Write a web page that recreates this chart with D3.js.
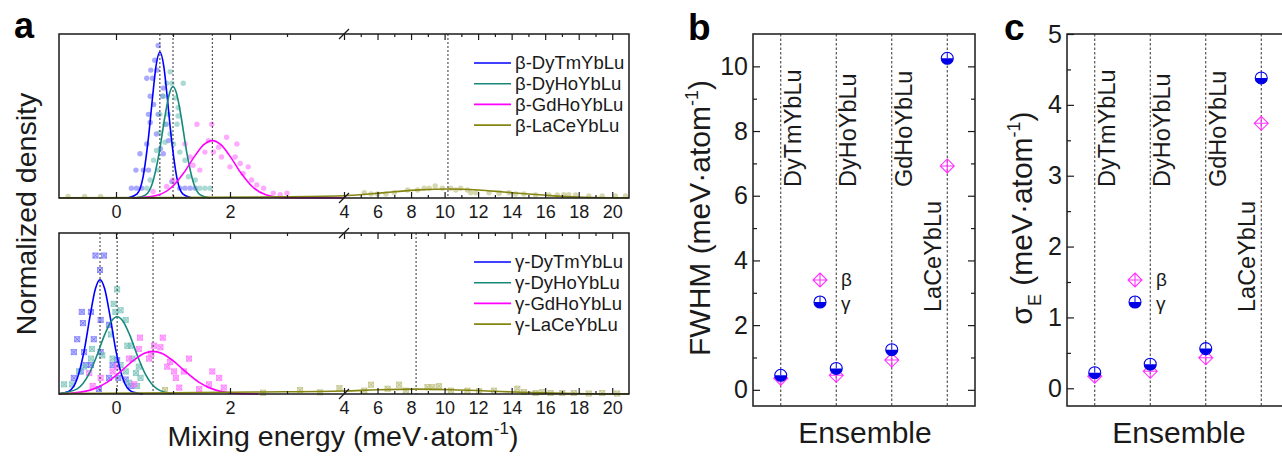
<!DOCTYPE html>
<html>
<head>
<meta charset="utf-8">
<script src="https://cdn.jsdelivr.net/npm/d3@7"></script>
<style>
  body { margin: 0; background: #fff; }
  svg { font-family: "Liberation Sans", Arial, Helvetica, sans-serif; }
</style>
</head>
<body>
<svg id="chart" width="1282" height="459"></svg>
<script>
// ---------- data ----------
const ensembles = ["DyTmYbLu", "DyHoYbLu", "GdHoYbLu", "LaCeYbLu"];
const betaNames = ensembles.map(d => "β-" + d);
const gammaNames = ensembles.map(d => "γ-" + d);

// FWHM (panel b) and sigma_E (panel c)
const fwhmBeta = [0.36, 0.45, 0.92, 6.92];
const fwhmGamma = [0.45, 0.66, 1.24, 10.25];
const sigmaBeta = [0.17, 0.24, 0.43, 3.74];
const sigmaGamma = [0.22, 0.34, 0.56, 4.38];

// peak positions (dotted lines in panel a)
const betaPeaks = [0.77, 1.0, 1.69, 10.2];
const gammaPeaks = [-0.28, 0.02, 0.65, 8.3];

// tick values
const energyMajor = [0, 2, 4, 6, 8, 10, 12, 14, 16, 18, 20];
const energyMinor = [1, 3, 5, 7, 9, 11, 13, 15, 17, 19];
const fwhmMajor = [0, 2, 4, 6, 8, 10];
const fwhmMinor = [1, 3, 5, 7, 9];
const sigmaMajor = [0, 1, 2, 3, 4, 5];
const sigmaMinor = [0.5, 1.5, 2.5, 3.5, 4.5];

// fitted curves: [energy, normalized density]
const fitB1 = [[0.22,0.001],[0.37,0.025],[0.47,0.12],[0.57,0.37],[0.64,0.61],[0.70,0.80],[0.77,0.89],[0.84,0.80],[0.90,0.61],[0.97,0.37],[1.07,0.12],[1.17,0.025],[1.32,0.001]];
const fitB2 = [[0.35,0.001],[0.52,0.019],[0.64,0.092],[0.76,0.28],[0.86,0.50],[0.94,0.64],[1.0,0.68],[1.06,0.64],[1.14,0.50],[1.24,0.28],[1.36,0.092],[1.48,0.019],[1.65,0.001]];
const fitB3 = [[0.3,0.0],[0.44,0.002],[0.74,0.018],[0.99,0.07],[1.19,0.154],[1.39,0.26],[1.54,0.325],[1.69,0.35],[1.84,0.325],[1.99,0.26],[2.19,0.154],[2.39,0.07],[2.64,0.018],[2.94,0.002],[4.0,0.0]];
const fitB4 = [[-1,0.0006],[1,0.0025],[2.5,0.0063],[4,0.0135],[5.5,0.0246],[7,0.038],[8.5,0.0495],[10.2,0.055],[12,0.049],[13.5,0.037],[15,0.024],[16.5,0.013],[18,0.006],[21,0.0008]];

const fitG1 = [[-1,0.001],[-0.83,0.016],[-0.68,0.096],[-0.56,0.266],[-0.45,0.495],[-0.36,0.655],[-0.28,0.71],[-0.2,0.655],[-0.11,0.495],[0.0,0.266],[0.12,0.096],[0.27,0.016],[0.47,0.001]];
const fitG2 = [[-1,0.002],[-0.68,0.032],[-0.48,0.12],[-0.34,0.234],[-0.2,0.367],[-0.08,0.454],[0.02,0.48],[0.12,0.454],[0.24,0.367],[0.38,0.234],[0.52,0.12],[0.72,0.032],[0.97,0.003]];
const fitG3 = [[-1,0.001],[-0.85,0.003],[-0.45,0.024],[-0.15,0.074],[0.1,0.145],[0.3,0.207],[0.5,0.253],[0.65,0.265],[0.8,0.253],[1.0,0.207],[1.2,0.145],[1.45,0.074],[1.75,0.024],[2.15,0.003],[2.5,0.0]];
const fitG4 = [[-1,0.0032],[1,0.0076],[2.5,0.0126],[4,0.0186],[6,0.026],[8.3,0.03],[10.5,0.0265],[12.5,0.019],[14.5,0.011],[16.5,0.0053],[18.5,0.002],[21,0.0005]];

// sampled points (histogram-like scatter)
const ptsB1 = [[0.74,0.93],[0.68,0.84],[0.61,0.78],[0.72,0.78],[0.54,0.73],[0.64,0.73],[0.83,0.67],[0.60,0.62],[0.82,0.62],[0.66,0.57],[0.57,0.51],[0.74,0.51],[0.60,0.46],[0.88,0.45],[0.71,0.39],[0.54,0.33],[0.92,0.35],[0.78,0.30],[0.42,0.27],[0.83,0.27],[0.35,0.17],[0.48,0.17],[0.57,0.17],[0.98,0.10],[0.27,0.06],[0.36,0.06],[0.45,0.06],[1.12,0.06],[1.21,0.06],[1.30,0.06],[1.39,0.06]];
const ptsB2 = [[0.95,0.77],[0.89,0.70],[0.98,0.70],[1.18,0.70],[0.83,0.62],[1.04,0.61],[1.09,0.55],[0.77,0.51],[0.92,0.51],[1.09,0.50],[0.86,0.45],[1.07,0.45],[0.77,0.40],[0.95,0.39],[0.86,0.34],[1.01,0.33],[0.71,0.29],[1.12,0.28],[0.66,0.23],[1.21,0.23],[0.74,0.17],[0.60,0.11],[1.27,0.13],[1.39,0.11],[0.54,0.06],[1.47,0.06],[1.56,0.06],[1.65,0.06]];
const ptsB3 = [[1.42,0.45],[1.68,0.45],[1.94,0.37],[2.12,0.33],[1.80,0.31],[1.21,0.33],[1.62,0.35],[1.56,0.28],[1.71,0.28],[1.30,0.25],[1.85,0.25],[2.09,0.25],[1.35,0.20],[2.00,0.19],[2.18,0.21],[2.32,0.19],[2.23,0.15],[1.47,0.17],[2.38,0.11],[2.47,0.08],[2.59,0.06],[2.76,0.03],[2.88,0.02],[3.00,0.03],[1.00,0.11],[0.89,0.07],[0.65,0.04]];
const ptsB4 = [[-0.84,0.01],[-0.55,0.01],[-0.27,0.01],[5.21,0.032],[5.61,0.024],[6.0,0.024],[6.5,0.024],[7.0,0.032],[7.79,0.049],[8.39,0.049],[8.78,0.059],[9.08,0.059],[9.44,0.073],[9.87,0.059],[10.37,0.059],[10.67,0.049],[10.96,0.059],[11.36,0.049],[11.56,0.032],[11.86,0.032],[12.65,0.032],[13.25,0.028],[13.84,0.032],[14.24,0.024],[14.73,0.024],[15.43,0.018],[16.22,0.018],[16.72,0.018],[17.11,0.02],[17.41,0.02],[17.81,0.018],[18.6,0.012],[19.4,0.012],[20.19,0.012],[20.79,0.012]];

const ptsG1 = [[-0.36,0.86],[-0.21,0.86],[-0.28,0.77],[-0.60,0.51],[-0.44,0.51],[-0.27,0.46],[-0.58,0.44],[-0.12,0.43],[-0.68,0.34],[-0.39,0.34],[-0.74,0.26],[-0.56,0.26],[-0.27,0.26],[-0.53,0.18],[-0.44,0.18],[-0.06,0.18],[0.02,0.21],[-0.74,0.10],[-0.12,0.10],[0.04,0.10],[0.17,0.09],[-0.62,0.14],[-0.30,0.03],[0.26,0.05]];
const ptsG2 = [[0.02,0.65],[-0.04,0.56],[0.08,0.52],[-0.01,0.51],[0.17,0.46],[-0.09,0.37],[0.20,0.30],[0.26,0.30],[-0.42,0.28],[-0.24,0.24],[-0.44,0.22],[-0.06,0.22],[0.29,0.22],[-0.56,0.17],[-0.65,0.14],[0.08,0.18],[0.40,0.17],[0.17,0.14],[0.35,0.13],[0.43,0.10],[-0.77,0.06],[0.23,0.07],[-0.91,0.06],[0.37,0.05]];
const ptsG3 = [[0.42,0.35],[0.82,0.35],[0.67,0.30],[0.78,0.29],[0.40,0.28],[0.62,0.25],[0.58,0.22],[0.23,0.22],[1.28,0.22],[0.95,0.20],[0.90,0.17],[0.02,0.17],[1.02,0.14],[1.19,0.14],[-0.06,0.14],[1.69,0.14],[1.81,0.10],[-0.47,0.13],[1.05,0.10],[1.11,0.04],[-0.27,0.10],[0.32,0.06],[-0.41,0.05],[1.46,0.03],[1.63,0.06],[1.89,0.04]];
const ptsG4 = [[0.86,0.025],[2.58,0.008],[3.23,0.025],[3.58,0.01],[3.92,0.037],[5.21,0.021],[5.61,0.058],[6.6,0.033],[7.29,0.058],[7.69,0.021],[8.98,0.043],[9.28,0.042],[9.67,0.048],[10.37,0.021],[11.36,0.021],[12.06,0.017],[12.95,0.021],[14.34,0.033],[14.73,0.012],[15.43,0.006],[15.83,0.012],[16.32,0.006],[17.02,0.006],[17.71,0.006],[18.6,0.003],[19.4,0.006],[20.29,0.003]];

// ---------- drawing ----------
const svg = d3.select("#chart");
const lineColors = ["#0000ff", "#16897b", "#ff00ff", "#858512"];
const pointColors = ["#6f6fff", "#73c2b8", "#ff6fff", "#bdbd7c"];
const ink = "#1a1a1a";

// panel a: broken x axis, -1..4 then 4..21
const xE = d3.scaleLinear().domain([-1, 4, 21]).range([59, 344, 629]);

const panelsA = [
  {top: 34, bottom: 198, fits: [fitB1, fitB2, fitB3, fitB4], pts: [ptsB1, ptsB2, ptsB3, ptsB4], peaks: betaPeaks, names: betaNames, shape: "circle", legTop: 63},
  {top: 233, bottom: 394, fits: [fitG1, fitG2, fitG3, fitG4], pts: [ptsG1, ptsG2, ptsG3, ptsG4], peaks: gammaPeaks, names: gammaNames, shape: "square", legTop: 262}
];

panelsA.forEach(p => {
  const y = d3.scaleLinear().domain([0, 1]).range([p.bottom, p.top]);
  const g = svg.append("g");

  // scatter
  p.pts.forEach((pts, i) => {
    const sg = g.append("g");
    if (p.shape === "circle") {
      sg.selectAll("circle").data(pts).join("circle")
        .attr("cx", d => xE(d[0])).attr("cy", d => y(d[1])).attr("r", 2.7)
        .attr("fill", pointColors[i]).attr("fill-opacity", 0.6);
    } else {
      const s = 2.6;
      const pg = sg.selectAll("g").data(pts).join("g")
        .attr("transform", d => `translate(${xE(d[0])},${y(d[1])})`);
      pg.append("rect").attr("x", -s).attr("y", -s).attr("width", 2 * s).attr("height", 2 * s)
        .attr("fill", pointColors[i]).attr("fill-opacity", 0.45)
        .attr("stroke", pointColors[i]).attr("stroke-opacity", 0.8).attr("stroke-width", 0.8);
      pg.append("path").attr("d", `M${-s},${-s}L${s},${s}M${-s},${s}L${s},${-s}`)
        .attr("stroke", pointColors[i]).attr("stroke-width", 0.8);
    }
  });

  // dotted peak markers
  g.selectAll("line.peak").data(p.peaks).join("line").attr("class", "peak")
    .attr("x1", d => xE(d)).attr("x2", d => xE(d)).attr("y1", p.top).attr("y2", p.bottom)
    .attr("stroke", "#333").attr("stroke-width", 1).attr("stroke-dasharray", "2,2");

  // fits
  const line = d3.line().x(d => xE(d[0])).y(d => y(d[1])).curve(d3.curveMonotoneX);
  p.fits.forEach((f, i) => {
    g.append("path").datum(f).attr("d", line).attr("fill", "none")
      .attr("stroke", lineColors[i]).attr("stroke-width", 1.6);
  });

  // ticks (inside), bottom with labels, top without
  const axB = d3.axisBottom(xE).tickValues(energyMajor).tickSizeInner(-6).tickSizeOuter(0).tickPadding(7).tickFormat(d3.format("d"));
  const gb = g.append("g").attr("transform", `translate(0,${p.bottom})`).call(axB);
  const axBm = d3.axisBottom(xE).tickValues(energyMinor).tickSizeInner(-3).tickSizeOuter(0).tickFormat("");
  g.append("g").attr("transform", `translate(0,${p.bottom})`).call(axBm);
  const axT = d3.axisTop(xE).tickValues(energyMajor).tickSizeInner(-6).tickSizeOuter(0).tickFormat("");
  g.append("g").attr("transform", `translate(0,${p.top})`).call(axT);
  const axTm = d3.axisTop(xE).tickValues(energyMinor).tickSizeInner(-3).tickSizeOuter(0).tickFormat("");
  g.append("g").attr("transform", `translate(0,${p.top})`).call(axTm);
  g.selectAll(".domain").remove();
  g.selectAll(".tick line").attr("stroke", ink).attr("stroke-width", 1.2);
  gb.selectAll("text").attr("font-size", 18).attr("fill", ink).attr("font-family", null);

  // frame
  g.append("rect").attr("x", xE(-1)).attr("y", p.top).attr("width", xE(21) - xE(-1)).attr("height", p.bottom - p.top)
    .attr("fill", "none").attr("stroke", ink).attr("stroke-width", 1.5);

  // axis break marks
  [p.top, p.bottom].forEach(yy => {
    g.append("line").attr("x1", xE(4) - 5).attr("y1", yy + 5).attr("x2", xE(4) + 5).attr("y2", yy - 5)
      .attr("stroke", ink).attr("stroke-width", 1.2);
  });

  // legend
  p.names.forEach((n, i) => {
    const ly = p.legTop + i * 20.7;
    g.append("line").attr("x1", 474).attr("x2", 511).attr("y1", ly).attr("y2", ly)
      .attr("stroke", lineColors[i]).attr("stroke-width", 1.6);
    g.append("text").attr("x", 515).attr("y", ly).attr("dy", "0.35em")
      .attr("font-size", 18.5).attr("fill", ink).text(n);
  });
});

// panel a titles
svg.append("text").attr("x", 14).attr("y", 38).attr("font-size", 36).attr("font-weight", "bold").attr("fill", "#000").text("a");
svg.append("text").attr("transform", "translate(36,214) rotate(-90)").attr("text-anchor", "middle")
  .attr("font-size", 28.5).attr("fill", ink).text("Normalized density");
const xt = svg.append("text").attr("x", 343).attr("y", 446).attr("text-anchor", "middle").attr("font-size", 28.5).attr("fill", ink);
xt.append("tspan").text("Mixing energy (meV·atom");
xt.append("tspan").attr("font-size", 17).attr("dy", -12).text("-1");
xt.append("tspan").attr("dy", 12).text(")");

// ---------- panels b and c ----------
function betaMarker(g, cx, cy) {
  const s = 7;
  g.append("path")
    .attr("d", `M${cx},${cy - s}L${cx + s},${cy}L${cx},${cy + s}L${cx - s},${cy}Z M${cx - s},${cy}H${cx + s} M${cx},${cy - s}V${cy + s}`)
    .attr("fill", "none").attr("stroke", "#ff33ff").attr("stroke-width", 1.1);
}
function gammaMarker(g, cx, cy) {
  const r = 6;
  g.append("circle").attr("cx", cx).attr("cy", cy).attr("r", r).attr("fill", "#fff");
  g.append("path").attr("d", `M${cx - r},${cy}A${r},${r} 0 0 0 ${cx + r},${cy}Z`).attr("fill", "#0000e6");
  g.append("line").attr("x1", cx).attr("x2", cx).attr("y1", cy - r).attr("y2", cy).attr("stroke", "#0000e6").attr("stroke-width", 1);
  g.append("circle").attr("cx", cx).attr("cy", cy).attr("r", r).attr("fill", "none").attr("stroke", "#0000e6").attr("stroke-width", 1.1);
}

function drawStat(o) {
  const g = svg.append("g");
  const x = d3.scaleLinear().domain([0.5, 4.5]).range([o.x0, o.x0 + 222]);
  const y = d3.scaleLinear().domain(o.domain).range([406, 34]);

  // dotted category lines
  g.selectAll("line.cat").data(ensembles).join("line").attr("class", "cat")
    .attr("x1", (d, i) => x(i + 1)).attr("x2", (d, i) => x(i + 1)).attr("y1", 34).attr("y2", 406)
    .attr("stroke", "#333").attr("stroke-width", 1).attr("stroke-dasharray", "2.5,2");

  // category labels (rotated)
  ensembles.forEach((n, i) => {
    const last = i === ensembles.length - 1;
    const lx = x(i + 1) + (last ? -6 : 20);
    const ly = last ? 312 : 187;
    g.append("text").attr("transform", `translate(${lx},${ly}) rotate(-90)`)
      .attr("font-size", 23.5).attr("fill", ink).text(n);
  });

  // axes (ticks inside, mirrored right)
  const axL = d3.axisLeft(y).tickValues(o.major).tickSizeInner(-7).tickSizeOuter(0).tickPadding(5).tickFormat(d3.format("d"));
  const gl = g.append("g").attr("transform", `translate(${o.x0},0)`).call(axL);
  g.append("g").attr("transform", `translate(${o.x0},0)`).call(d3.axisLeft(y).tickValues(o.minor).tickSizeInner(-4).tickSizeOuter(0).tickFormat(""));
  g.append("g").attr("transform", `translate(${o.x0 + 222},0)`).call(d3.axisRight(y).tickValues(o.major).tickSizeInner(-7).tickSizeOuter(0).tickFormat(""));
  g.append("g").attr("transform", `translate(${o.x0 + 222},0)`).call(d3.axisRight(y).tickValues(o.minor).tickSizeInner(-4).tickSizeOuter(0).tickFormat(""));
  g.selectAll(".domain").remove();
  g.selectAll(".tick line").attr("stroke", ink).attr("stroke-width", 1.2);
  gl.selectAll("text").attr("font-size", 25).attr("fill", ink).attr("font-family", null);

  g.append("rect").attr("x", o.x0).attr("y", 34).attr("width", 222).attr("height", 372)
    .attr("fill", "none").attr("stroke", ink).attr("stroke-width", 1.5);

  // data markers
  o.beta.forEach((v, i) => betaMarker(g, x(i + 1), y(v)));
  o.gamma.forEach((v, i) => gammaMarker(g, x(i + 1), y(v)));

  // legend
  betaMarker(g, o.x0 + o.legX, 280);
  gammaMarker(g, o.x0 + o.legX, 302);
  g.append("text").attr("x", o.x0 + o.legX + 21).attr("y", 279).attr("dy", "0.35em").attr("font-size", 19).attr("fill", ink).text("β");
  g.append("text").attr("x", o.x0 + o.legX + 21).attr("y", 304).attr("dy", "0.3em").attr("font-size", 19).attr("fill", ink).text("γ");

  // titles
  svg.append("text").attr("x", o.letterX).attr("y", 40).attr("font-size", 37).attr("font-weight", "bold").attr("fill", "#000").text(o.letter);
  svg.append("text").attr("x", o.x0 + 112).attr("y", 443).attr("text-anchor", "middle").attr("font-size", 30).attr("fill", ink).text("Ensemble");
  const yt = svg.append("text").attr("transform", `translate(${o.titleX},218) rotate(-90)`).attr("text-anchor", "middle")
    .attr("font-size", 30).attr("fill", ink);
  if (o.sigma) {
    yt.append("tspan").text("σ");
    yt.append("tspan").attr("font-size", 18).attr("dy", 9).text("E");
    yt.append("tspan").attr("dy", -9).text(" (meV·atom");
  } else {
    yt.append("tspan").text("FWHM (meV·atom");
  }
  yt.append("tspan").attr("font-size", 18).attr("dy", -12).text("-1");
  yt.append("tspan").attr("dy", 12).text(")");
}

drawStat({x0: 753, domain: [-0.5, 11], major: fwhmMajor, minor: fwhmMinor, beta: fwhmBeta, gamma: fwhmGamma,
  legX: 67, letter: "b", letterX: 688, titleX: 710, sigma: false});
drawStat({x0: 1067, domain: [-0.25, 5], major: sigmaMajor, minor: sigmaMinor, beta: sigmaBeta, gamma: sigmaGamma,
  legX: 68, letter: "c", letterX: 1004, titleX: 1032, sigma: true});
</script>
</body>
</html>
